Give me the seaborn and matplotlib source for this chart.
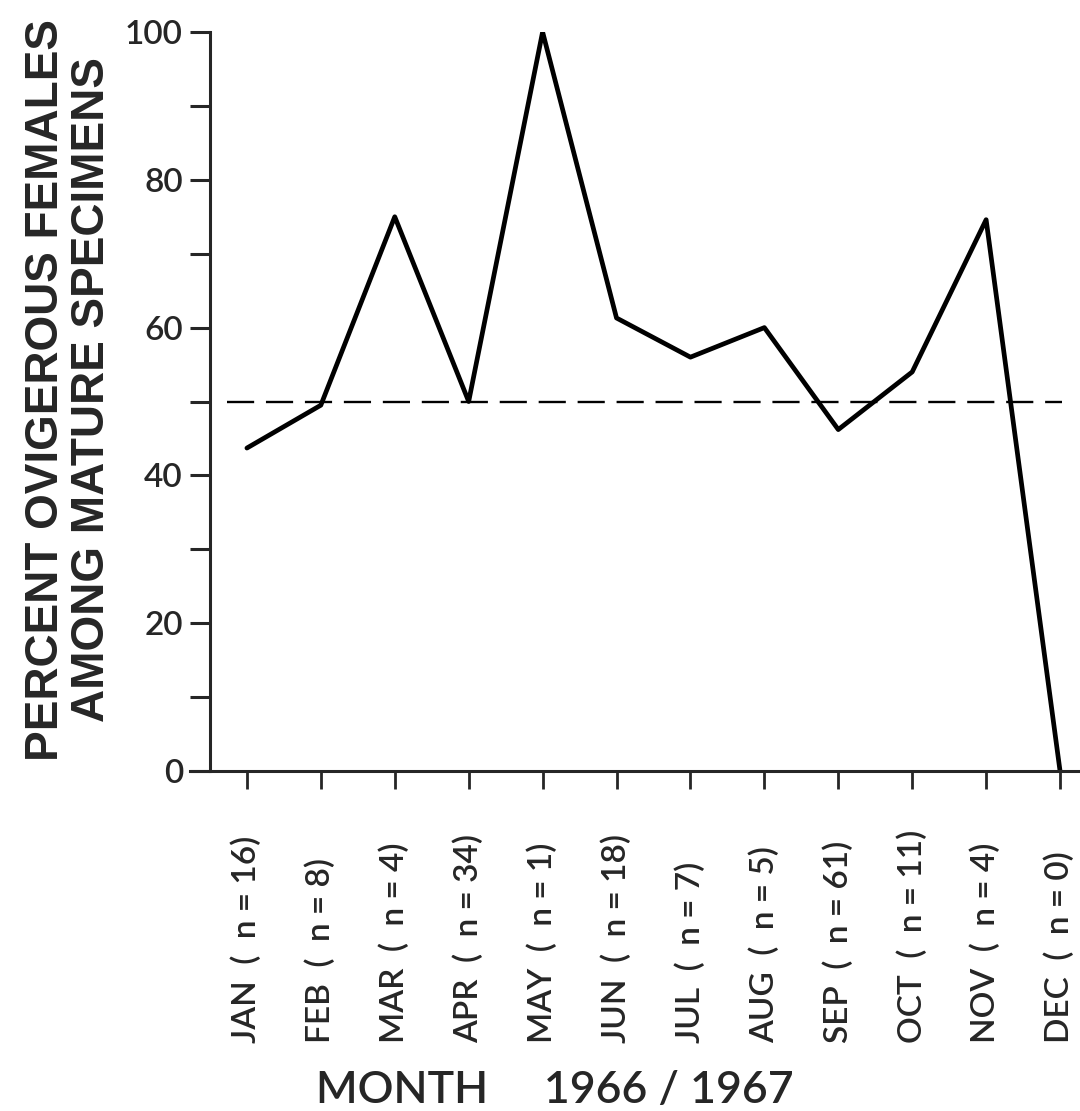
import numpy as np
import pandas as pd
import matplotlib
matplotlib.use("Agg")
import matplotlib.pyplot as plt
import seaborn as sns
from matplotlib import font_manager
from matplotlib.ticker import MultipleLocator

# --- Data ---
MONTHS = ["JAN", "FEB", "MAR", "APR", "MAY", "JUN",
          "JUL", "AUG", "SEP", "OCT", "NOV", "DEC"]
N_SAMPLES = [16, 8, 4, 34, 1, 18, 7, 5, 61, 11, 4, 0]
PCT_OVIGEROUS = [43.7, 49.5, 75.0, 50.0, 100.0, 61.3,
                 56.0, 60.0, 46.2, 54.0, 74.6, 0.0]
REFERENCE_LEVEL = 50

sns.set_theme(style="ticks")
names = {f.name for f in font_manager.fontManager.ttflist}
label_font = "Lato" if "Lato" in names else "DejaVu Sans"
plt.rcParams["font.family"] = [label_font, "DejaVu Sans"]
plt.rcParams["font.weight"] = "semibold"

df = pd.DataFrame({"idx": np.arange(len(MONTHS)), "pct": PCT_OVIGEROUS})

fig = plt.figure(figsize=(10.8, 11.11), dpi=100)
ax = fig.add_axes([190 / 1080, 1 - 771 / 1111, 1 - 190 / 1080, (771 - 32) / 1111])

sns.lineplot(data=df, x="idx", y="pct", ax=ax, color="black", linewidth=3.4)
ax.plot([-0.27, 11.03], [REFERENCE_LEVEL, REFERENCE_LEVEL], color="black",
        linewidth=1.7, dashes=(11.5, 5))

ax.set_xlim(-0.77, 11.27)
ax.set_ylim(0, 100)
for s in ["top", "right"]:
    ax.spines[s].set_visible(False)
ax.spines["left"].set_position(("data", -0.5))
ax.spines["left"].set_linewidth(2.2)
ax.spines["bottom"].set_linewidth(2.2)

ax.yaxis.set_major_locator(MultipleLocator(20))
ax.yaxis.set_minor_locator(MultipleLocator(10))
ax.tick_params(axis="y", which="both", direction="out", length=14.5, width=2.2,
               pad=5, labelsize=24)
ax.set_xticks(df["idx"])
ax.set_xticklabels([])
ax.tick_params(axis="x", direction="out", length=13, width=2.0)
ax.set_xlabel("")
ax.set_ylabel("")

for i, (m, n) in enumerate(zip(MONTHS, N_SAMPLES)):
    ax.text(i, -0.368, f"{m}  (  n = {n})", transform=ax.get_xaxis_transform(),
            rotation=90, ha="center", va="bottom", fontsize=24)

fig.text(555 / 1080, 1 - 1103 / 1111, "MONTH     1966 / 1967", ha="center",
         va="baseline", fontsize=32)
fig.text(69 / 1080, 1 - 390 / 1111,
         "PERCENT OVIGEROUS FEMALES\nAMONG MATURE SPECIMENS",
         rotation=90, ha="center", va="center", fontsize=33, fontweight="bold",
         family=["Liberation Sans", "DejaVu Sans"], linespacing=1.05)

fig.savefig("out.png", dpi=100)
